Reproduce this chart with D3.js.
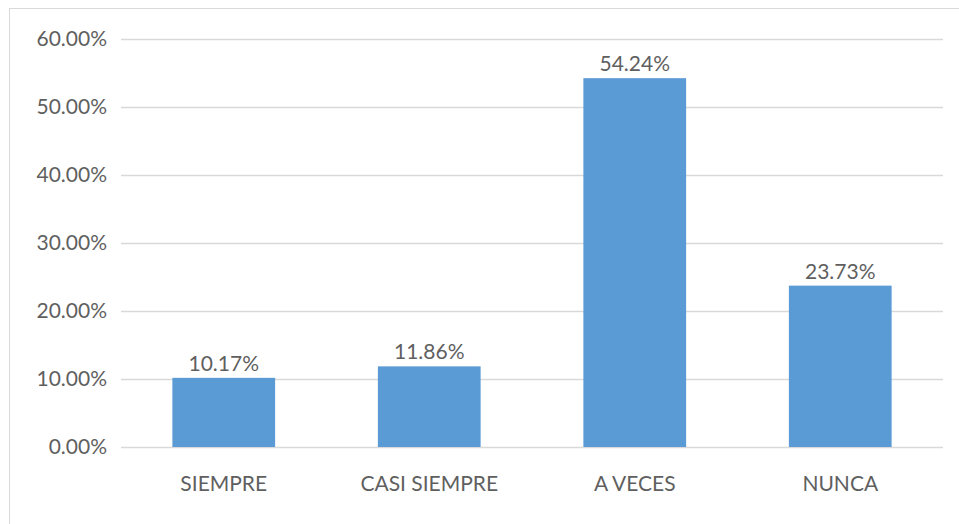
<!DOCTYPE html>
<html><head><meta charset="utf-8">
<script src="https://cdn.jsdelivr.net/npm/d3@7"></script>
<style>body{margin:0;background:#fff;} svg{display:block;}</style>
</head><body>
<svg id="chart" width="959" height="524"></svg>
<script>
const categories = ["SIEMPRE", "CASI SIEMPRE", "A VECES", "NUNCA"];
const values = [10.17, 11.86, 54.24, 23.73];
const tickValues = [0, 10, 20, 30, 40, 50, 60];

const svg = d3.select("#chart");
const font = "Lato, 'Open Sans', sans-serif";
const textColor = "#5f5f5f";
const fs = 21;

// outer chart border
svg.append("rect").attr("x", 9.5).attr("y", 8.5).attr("width", 970).attr("height", 530)
  .attr("fill", "none").attr("stroke", "#d9d9d9").attr("stroke-width", 1);

const x = d3.scaleBand().domain(categories).range([121, 943]).paddingInner(0.5).paddingOuter(0.25);
const y = d3.scaleLinear().domain([0, 60]).range([447, 39]);

// gridlines
svg.append("g").selectAll("line").data(tickValues).join("line")
  .attr("x1", 121).attr("x2", 943)
  .attr("y1", d => Math.round(y(d)) + 0.5).attr("y2", d => Math.round(y(d)) + 0.5)
  .attr("stroke", "#d9d9d9").attr("stroke-width", 1.5);

// y axis labels
const yAxis = d3.axisLeft(y).tickValues(tickValues).tickFormat(d => d.toFixed(2) + "%").tickSize(0).tickPadding(14);
const gy = svg.append("g").attr("transform", "translate(121,0)").call(yAxis);
gy.select(".domain").remove();
gy.selectAll("text").attr("font-family", font).attr("font-size", fs).attr("fill", textColor);

// bars
svg.append("g").selectAll("rect").data(values).join("rect")
  .attr("x", (d, i) => x(categories[i])).attr("width", x.bandwidth())
  .attr("y", d => y(d)).attr("height", d => y(0) - y(d))
  .attr("fill", "#5b9bd5");

// value labels
svg.append("g").selectAll("text").data(values).join("text")
  .attr("x", (d, i) => x(categories[i]) + x.bandwidth() / 2)
  .attr("y", d => y(d) - 7)
  .attr("text-anchor", "middle")
  .attr("font-family", font).attr("font-size", fs).attr("fill", textColor)
  .text(d => d.toFixed(2) + "%");

// x axis labels
const xAxis = d3.axisBottom(x).tickSize(0).tickPadding(29);
const gx = svg.append("g").attr("transform", "translate(0,447)").call(xAxis);
gx.select(".domain").remove();
gx.selectAll("text").attr("font-family", font).attr("font-size", fs).attr("fill", textColor);
</script>
</body></html>
